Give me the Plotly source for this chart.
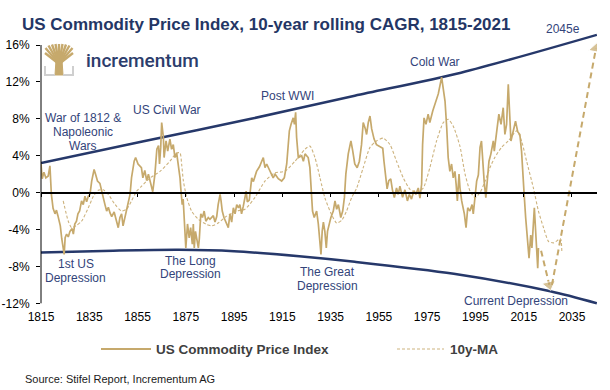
import plotly.graph_objects as go

# ---------------- data ----------------
cpi_years = [1815.0, 1815.5, 1816.2, 1817.0, 1818.0, 1818.7, 1819.3, 1820.0, 1820.8, 1821.4,
             1822.0, 1823.0, 1823.6, 1824.2, 1824.6, 1825.0, 1825.6, 1826.3, 1827.0, 1827.9,
             1828.4, 1829.0, 1829.7, 1830.3, 1831.0, 1831.8, 1832.5, 1833.2, 1833.9, 1834.6,
             1835.3, 1836.0, 1837.0, 1837.7, 1838.4, 1839.4, 1840.1, 1840.8, 1841.5, 1842.2,
             1842.9, 1843.6, 1844.3, 1845.3, 1846.4, 1847.0, 1847.7, 1848.4, 1849.0, 1849.4,
             1850.5, 1851.9, 1852.5, 1853.6, 1854.2, 1855.2, 1856.6, 1857.2, 1858.0, 1858.8,
             1859.5, 1860.9, 1861.3, 1862.2, 1863.0, 1863.7, 1864.1, 1864.6, 1865.0, 1865.7,
             1866.0, 1866.8, 1867.5, 1868.4, 1869.1, 1869.8, 1870.5, 1871.2, 1872.2, 1872.6,
             1872.9, 1873.5, 1873.9, 1874.4, 1875.0, 1875.7, 1876.4, 1877.0, 1877.7, 1878.1,
             1878.5, 1879.0, 1880.2, 1880.6, 1881.2, 1881.9, 1882.6, 1883.3, 1884.3, 1885.0,
             1886.4, 1887.1, 1887.8, 1888.4, 1889.2, 1889.6, 1890.1, 1890.8, 1891.9, 1892.6,
             1893.3, 1894.0, 1894.7, 1895.4, 1896.1, 1896.8, 1897.4, 1898.1, 1898.8, 1900.0,
             1900.5, 1901.3, 1902.3, 1903.0, 1904.3, 1905.5, 1907.1, 1907.8, 1908.5, 1909.9,
             1911.2, 1912.0, 1913.3, 1914.7, 1915.8, 1916.8, 1917.4, 1917.9, 1918.6, 1919.5,
             1920.0, 1920.5, 1920.9, 1921.6, 1923.0, 1923.7, 1924.4, 1925.7, 1926.4, 1927.1,
             1927.5, 1928.2, 1929.2, 1929.9, 1930.6, 1931.0, 1931.5, 1932.0, 1932.6, 1933.2,
             1933.7, 1934.4, 1935.1, 1936.1, 1936.8, 1937.5, 1938.2, 1939.2, 1940.0, 1940.7,
             1941.3, 1942.3, 1943.4, 1944.1, 1945.0, 1946.0, 1946.9, 1947.8, 1948.5, 1949.4,
             1949.9, 1950.6, 1951.3, 1952.0, 1953.0, 1954.0, 1955.4, 1956.6, 1957.1, 1957.8,
             1958.4, 1959.1, 1959.9, 1960.6, 1961.4, 1962.3, 1963.0, 1963.7, 1964.8, 1965.8,
             1966.8, 1967.6, 1968.5, 1969.5, 1970.3, 1971.3, 1972.0, 1972.7, 1973.1, 1973.7,
             1974.5, 1975.4, 1976.1, 1977.3, 1978.6, 1979.6, 1981.0, 1981.7, 1982.4, 1983.1,
             1983.7, 1984.4, 1985.1, 1985.8, 1986.5, 1987.0, 1987.5, 1988.2, 1988.6, 1989.3,
             1990.4, 1991.1, 1991.8, 1992.7, 1993.6, 1994.1, 1994.8, 1995.5, 1996.2, 1996.9,
             1997.5, 1998.2, 1998.6, 1999.3, 1999.9, 2000.6, 2001.4, 2002.4, 2002.8, 2003.8,
             2004.7, 2005.6, 2006.5, 2007.2, 2007.9, 2008.6, 2009.3, 2009.7, 2010.6, 2011.6,
             2012.5, 2013.4, 2014.1, 2014.5, 2015.1, 2015.8, 2016.6, 2017.2, 2017.9, 2018.4,
             2019.4, 2019.9, 2020.3, 2020.8, 2021.1]
cpi_values = [3.1, 1.5, 2.2, 1.6, 1.8, 2.9, -0.2, -1.7, -2.3, -1.9,
              -2.5, -3.6, -5.0, -6.1, -6.7, -4.9, -4.5, -4.8, -4.2, -3.9,
              -4.5, -3.4, -3.1, -2.3, -2.0, -0.9, -1.3, -0.4, -1.0, -0.4,
              -0.2, 1.25, 2.5, 1.9, 1.25, 1.0, 0.15, -0.5, -1.3, -2.0,
              -1.6, -2.2, -2.6, -2.1, -3.4, -3.8, -2.7, -2.3, -3.6, -3.1,
              -1.9, -0.2, 1.6, 3.4, 3.8, 3.1, 2.7, 1.6, 2.4, 1.3,
              2.0, 0.5, 0.1, 2.0, 4.7, 5.1, 3.1, 4.9, 7.6, 6.0,
              3.8, 5.6, 4.5, 5.8, 4.7, 5.2, 3.8, 4.3, 2.7, 1.6,
              0.5, -1.3, -0.7, -3.4, -6.0, -3.4, -4.9, -3.8, -5.6, -3.4,
              -6.0, -4.2, -6.0, -5.0, -2.3, -2.7, -2.0, -3.1, -2.7, -2.9,
              -2.5, -3.2, -2.6, -1.3, -0.2, -0.9, -2.0, -2.7, -3.4, -3.8,
              -2.3, -3.2, -1.65, -2.3, -1.3, -1.65, -1.3, -2.3, -1.5, 0.15,
              -1.0, -0.8, 1.6, 1.2, 2.3, 2.8, 3.8, 2.7, 3.1, 2.3,
              1.6, 2.0, 1.5, 1.25, 1.6, 3.1, 5.2, 6.7, 7.4, 8.1,
              7.4, 8.7, 6.0, 3.8, 4.0, 3.4, 4.2, 3.8, 2.7, 0.15,
              -2.0, -2.7, -2.0, -3.4, -5.3, -6.7, -4.2, -3.2, -4.2, -6.0,
              -4.2, -3.4, -2.7, -2.0, -0.9, -1.8, -1.3, -2.7, -2.0, -0.55,
              2.0, 4.2, 5.6, 4.6, 3.1, 2.7, 3.4, 5.2, 7.6, 6.9,
              6.3, 7.6, 8.3, 6.9, 5.8, 5.2, 5.0, 4.8, 3.4, 1.6,
              0.4, 1.3, 1.5, 0.3, -0.55, 0.5, -0.2, 0.7, -0.5, 0.3,
              -0.9, -0.2, -0.7, 0.2, -0.2, 0.5, -0.6, 0.9, 5.2, 8.1,
              7.4, 8.5, 7.6, 8.85, 9.9, 10.7, 12.5, 11.1, 9.9, 7.0,
              3.8, 2.3, 3.1, 1.6, 2.3, 0.9, -0.9, 2.0, 0.5, -0.9,
              -2.3, -3.8, -1.65, -2.0, -1.3, -2.3, -0.55, 1.25, 1.9, 4.9,
              5.6, 2.7, 1.25, -0.55, 1.25, 3.4, 4.2, 5.6, 4.5, 7.0,
              8.5, 7.4, 9.2, 6.3, 7.4, 11.75, 7.0, 5.6, 6.6, 7.75,
              6.6, 6.3, 4.5, 2.3, 0.15, -2.7, -5.6, -7.1, -4.6, -6.0,
              -1.65, -3.8, -6.0, -8.2, -6.0]

ma_years = [1824.2, 1826.3, 1827.7, 1829.5, 1831.8, 1834.6, 1836.7, 1838.7, 1840.8, 1842.9,
            1845.7, 1848.4, 1850.5, 1852.5, 1854.6, 1856.7, 1860.2, 1864.3, 1868.4, 1871.2,
            1872.6, 1873.3, 1874.0, 1875.4, 1877.4, 1880.2, 1883.6, 1885.8, 1888.4, 1891.9,
            1896.0, 1899.5, 1903.6, 1907.8, 1912.0, 1916.0, 1920.2, 1924.4, 1926.4, 1928.5,
            1930.6, 1932.6, 1935.4, 1937.5, 1939.6, 1941.6, 1943.7, 1945.8, 1948.5, 1951.3,
            1954.0, 1956.8, 1959.6, 1962.3, 1965.1, 1967.9, 1970.6, 1973.4, 1976.1, 1978.9,
            1981.7, 1983.7, 1985.8, 1988.6, 1990.7, 1992.8, 1994.8, 1996.9, 1999.0, 2001.0,
            2003.0, 2005.8, 2008.6, 2012.1, 2014.1, 2016.2, 2019.0, 2021.1, 2023.2, 2025.3,
            2027.4, 2030.2, 2030.8]
ma_values = [-0.9, -3.1, -3.8, -3.6, -3.1, -1.65, -0.4, 0.25, 0.3, -0.2,
             -1.3, -2.0, -1.8, -0.9, 0.15, 0.7, 1.6, 2.3, 3.4, 4.3,
             4.3, 3.0, 1.25, -0.55, -2.0, -2.9, -3.45, -3.6, -3.3, -2.55,
             -2.0, -1.8, -0.55, 1.25, 2.15, 2.3, 3.4, 4.7, 5.05, 3.8,
             1.6, -0.55, -2.4, -3.3, -3.0, -2.0, -0.55, 0.5, 2.7, 4.9,
             5.6, 5.9, 5.2, 3.4, 1.6, 0.35, 0.0, 0.5, 2.7, 5.6,
             7.6, 7.95, 7.2, 5.0, 2.0, 0.15, -0.55, 0.0, 1.25, 2.7,
             3.8, 4.9, 5.6, 6.7, 5.6, 3.4, 0.5, -2.0, -3.8, -5.3,
             -5.45, -5.0, -6.5]

upper_years = [1815, 1858, 1902, 1945, 1989, 2045.3]
upper_values = [3.2, 5.6, 8.0, 10.5, 13.0, 17.1]
lower_years = [1815, 1845, 1872, 1895, 1922, 1945, 1986, 2026, 2045.3]
lower_values = [-6.5, -6.3, -6.2, -6.35, -6.9, -7.5, -8.8, -10.7, -12.0]

fc_down_years = [2022.2, 2025.6]
fc_down_values = [-6.3, -10.0]
fc_up_years = [2026.7, 2044.9]
fc_up_values = [-10.0, 15.6]

x_ticks = [1815, 1835, 1855, 1875, 1895, 1915, 1935, 1955, 1975, 1995, 2015, 2035]
y_ticks = [-12, -8, -4, 0, 4, 8, 12, 16]

# ---------------- geometry / style ----------------
W, H = 610, 390
L_PX, R_PX, T_PX, B_PX = 41, 597, 30, 308
X0, X1 = 1815, 2045.36
Y16_PX, YM12_PX = 45, 303.3
ppv = (YM12_PX - Y16_PX) / 28.0
Y_TOP = 16 + (Y16_PX - T_PX) / ppv
Y_BOT = -12 - (B_PX - YM12_PX) / ppv
ZERO_PX = Y16_PX + 16 * ppv


def pxx(px):
    return (px - L_PX) / (R_PX - L_PX)


def pxy(py):
    return (B_PX - py) / (B_PX - T_PX)


FONT = "Liberation Sans, Arial, sans-serif"
GOLD = "#C6A96C"
GOLD_MA = "#CDB37E"
NAVY = "#26386A"
ANN = "#33447A"

fig = go.Figure()

fig.add_trace(go.Scatter(x=upper_years, y=upper_values, mode="lines",
                         line=dict(color=NAVY, width=2.5, shape="spline", smoothing=0.8),
                         showlegend=False, hoverinfo="skip"))
fig.add_trace(go.Scatter(x=lower_years, y=lower_values, mode="lines",
                         line=dict(color=NAVY, width=2.5, shape="spline", smoothing=0.8),
                         showlegend=False, hoverinfo="skip"))
fig.add_trace(go.Scatter(x=ma_years, y=ma_values, mode="lines", name="10y-MA",
                         line=dict(color=GOLD_MA, width=1.1, dash="3px,2px", shape="spline", smoothing=0.6),
                         showlegend=False))
fig.add_trace(go.Scatter(x=cpi_years, y=cpi_values, mode="lines", name="US Commodity Price Index",
                         line=dict(color=GOLD, width=1.7), showlegend=False))
for fx, fy in ((fc_down_years, fc_down_values), (fc_up_years, fc_up_values)):
    fig.add_trace(go.Scatter(x=fx, y=fy, mode="lines+markers",
                             line=dict(color=GOLD, width=2, dash="6px,4px"),
                             marker=dict(symbol=["circle", "triangle-up"], size=[0, 12],
                                         color=GOLD, angleref="previous"),
                             showlegend=False, hoverinfo="skip"))
# helper trace so the zero-line axis gets drawn
fig.add_trace(go.Scatter(x=[X0], y=[0], xaxis="x2", yaxis="y", mode="markers",
                         marker=dict(size=1, opacity=0), showlegend=False, hoverinfo="skip"))

shapes = []
shapes.append(dict(type="line", xref="paper", yref="paper", x0=0, x1=0,
                   y0=pxy(YM12_PX), y1=pxy(Y16_PX), line=dict(color="black", width=1)))
LEG_Y = 349
shapes.append(dict(type="line", xref="paper", yref="paper", x0=pxx(101), x1=pxx(151),
                   y0=pxy(LEG_Y), y1=pxy(LEG_Y), line=dict(color=GOLD, width=2)))
shapes.append(dict(type="line", xref="paper", yref="paper", x0=pxx(397), x1=pxx(444),
                   y0=pxy(LEG_Y), y1=pxy(LEG_Y), line=dict(color=GOLD_MA, width=1, dash="3px,2px")))


def ppath(points, close=False):
    s = "M" + " L".join(f"{pxx(a):.5f},{pxy(b):.5f}" for a, b in points)
    return s + (" Z" if close else "")


base = (59, 64)
for tx, ty in [(45, 53), (45.5, 48), (48.5, 45.5), (52, 44.5), (55.5, 44), (59, 44),
               (62.5, 44), (66, 44.5), (69.5, 45.5), (72.5, 48), (73, 53)]:
    shapes.append(dict(type="path", xref="paper", yref="paper", path=ppath([base, (tx, ty)]),
                       line=dict(color=GOLD, width=2.4)))
shapes.append(dict(type="path", xref="paper", yref="paper",
                   path=ppath([(55, 75), (63, 75), (62, 60), (56, 60)], close=True),
                   fillcolor=GOLD, line=dict(color=GOLD, width=1)))
shapes.append(dict(type="path", xref="paper", yref="paper",
                   path=ppath([(45, 66), (45, 75), (55, 75)]), line=dict(color="#CFCFCF", width=2)))
shapes.append(dict(type="path", xref="paper", yref="paper",
                   path=ppath([(63, 75), (73, 75), (73, 66)]), line=dict(color="#CFCFCF", width=2)))

ann = []


def txt(text, x, y, size=12, color=ANN, xanchor="center", bold=False, family=FONT, weight=None):
    f = dict(family=family, size=size, color=color)
    if weight is not None:
        f["weight"] = weight
    ann.append(dict(text=f"<b>{text}</b>" if bold else text, x=pxx(x), y=pxy(y), xref="paper",
                    yref="paper", showarrow=False, xanchor=xanchor, yanchor="middle", font=f,
                    borderpad=0))


txt("US Commodity Price Index, 10-year rolling CAGR, 1815-2021", 21, 25, size=17,
    color="#243665", xanchor="left", bold=True)
txt("2045e", 563, 29, size=12)
txt("incrementum", 85, 61, size=19, color="#2C3D6C", xanchor="left", family="Roboto", weight=500)
txt("War of 1812 &", 83, 118)
txt("Napoleonic", 83, 132)
txt("Wars", 83, 146)
txt("US Civil War", 167, 110)
txt("Post WWI", 287, 96)
txt("Cold War", 435, 62)
txt("1st US", 76, 264)
txt("Depression", 75, 278)
txt("The Long", 190, 261)
txt("Depression", 190, 274)
txt("The Great", 327, 272)
txt("Depression", 327, 286)
txt("Current Depression", 516, 301)
txt("US Commodity Price Index", 155, LEG_Y, size=13.5, color="#404040", xanchor="left", bold=True)
txt("10y-MA", 449, LEG_Y, size=13.5, color="#404040", xanchor="left", bold=True)
txt("Source: Stifel Report, Incrementum AG", 24, 379, size=11, color="#1A1A1A", xanchor="left")

fig.update_layout(
    width=W, height=H,
    margin=dict(l=L_PX, r=W - R_PX, t=T_PX, b=H - B_PX, pad=0, autoexpand=False),
    paper_bgcolor="white", plot_bgcolor="white",
    font=dict(family=FONT, size=12, color="black"),
    showlegend=False,
    shapes=shapes,
    annotations=ann,
    xaxis=dict(range=[X0, X1], anchor="free", position=pxy(308), showline=False, ticks="",
               tickvals=x_ticks, ticktext=[str(t) for t in x_ticks], showgrid=False,
               zeroline=False, automargin=False,
               tickfont=dict(family=FONT, size=12, color="black"), fixedrange=True),
    xaxis2=dict(range=[X0, X1], overlaying="x", anchor="free", position=pxy(ZERO_PX), side="bottom",
                showline=True, linecolor="black", linewidth=1.5, ticks="outside", ticklen=4,
                tickwidth=1, tickcolor="black", tickvals=x_ticks, showticklabels=False,
                showgrid=False, zeroline=False, automargin=False, fixedrange=True),
    yaxis=dict(range=[Y_BOT, Y_TOP], showline=False, ticks="outside", ticklen=4, tickwidth=1,
               tickcolor="black", tickvals=y_ticks, ticktext=[f"{v}%" for v in y_ticks],
               showgrid=False, zeroline=False, ticklabelstandoff=4, automargin=False,
               tickfont=dict(family=FONT, size=12, color="black"), fixedrange=True),
)

fig.write_html("out.html", config={"displayModeBar": False},
               post_script="document.body.style.margin='0';document.body.style.overflow='hidden';")
